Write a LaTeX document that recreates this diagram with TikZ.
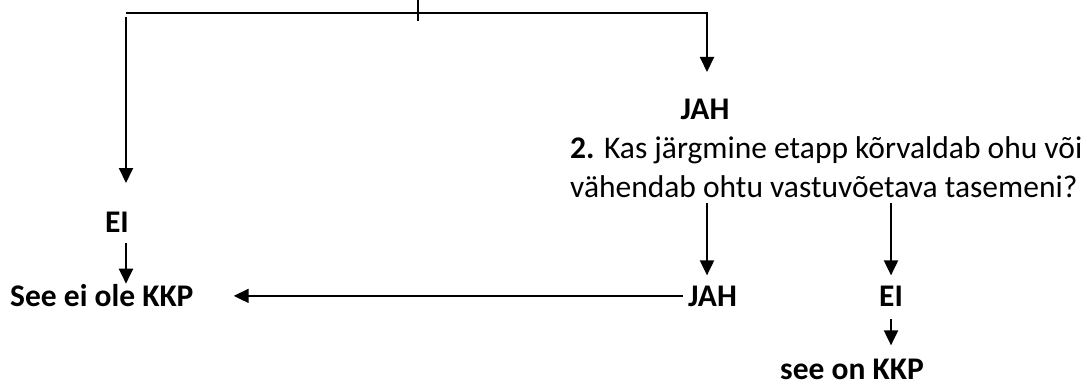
\documentclass[tikz,border=0pt]{standalone}
\usepackage{fontspec}
\setmainfont{Carlito}
\usetikzlibrary{arrows.meta,positioning,calc}

\begin{document}
\begin{tikzpicture}[x=1pt,y=-1pt,
    ln/.style={line width=2pt},
    arr/.style={ln,-{Triangle[width=14pt,length=15pt]}},
    lbl/.style={font=\fontsize{31.5}{38.4}\selectfont\bfseries,inner sep=0pt},
    txt/.style={font=\fontsize{31.5}{38.4}\selectfont,inner sep=0pt,align=left}]
    \useasboundingbox (0,0) rectangle (1087,385);

    % Branch coming from above
    \coordinate (in) at (418,0);
    \coordinate (split) at (418,21);
    \coordinate (hl) at (126,13);
    \coordinate (jahIn) at (707,72);
    \coordinate (lTop) at (126,17);
    \coordinate (lTip) at (126,183);
    \draw[ln] (in) -- (split);
    \draw[arr] (hl) -| (jahIn);
    \draw[arr] (lTop) -- (lTip);

    % Labels
    \node[lbl,anchor=base] (eiL) at (117,232) {EI};
    \node[lbl,anchor=base west] (seeEi) at (10,306) {See ei ole KKP};
    \node[lbl,anchor=base] (jahT) at (705,120) {JAH};
    \node[txt,anchor=base west] (q) at (570,197) {\textbf{2.} Kas järgmine etapp kõrvaldab ohu või\\vähendab ohtu vastuvõetava tasemeni?};
    \node[lbl,anchor=base west] (jahB) at (688,306) {JAH};
    \node[lbl,anchor=base] (eiR) at (891,306) {EI};
    \node[lbl,anchor=base] (seeOn) at (852,379) {see on KKP};

    % Answers
    \draw[arr,shorten <=11pt] ([xshift=9pt]eiL.south) -- ([xshift=9pt]eiL.south |- seeEi.north);
    \draw[arr,shorten <=6pt,shorten >=10pt] (q.south -| jahIn) -- (jahB.north -| jahIn);
    \draw[arr,shorten <=6pt,shorten >=10pt] (q.south -| eiR.center) -- (eiR.north);
    \draw[arr,shorten <=13pt,shorten >=13pt] (eiR.south) -- (eiR.south |- seeOn.north);
    \draw[arr,shorten <=5pt,shorten >=40pt] (jahB.west) -- (jahB.west -| seeEi.east);
\end{tikzpicture}
\end{document}
